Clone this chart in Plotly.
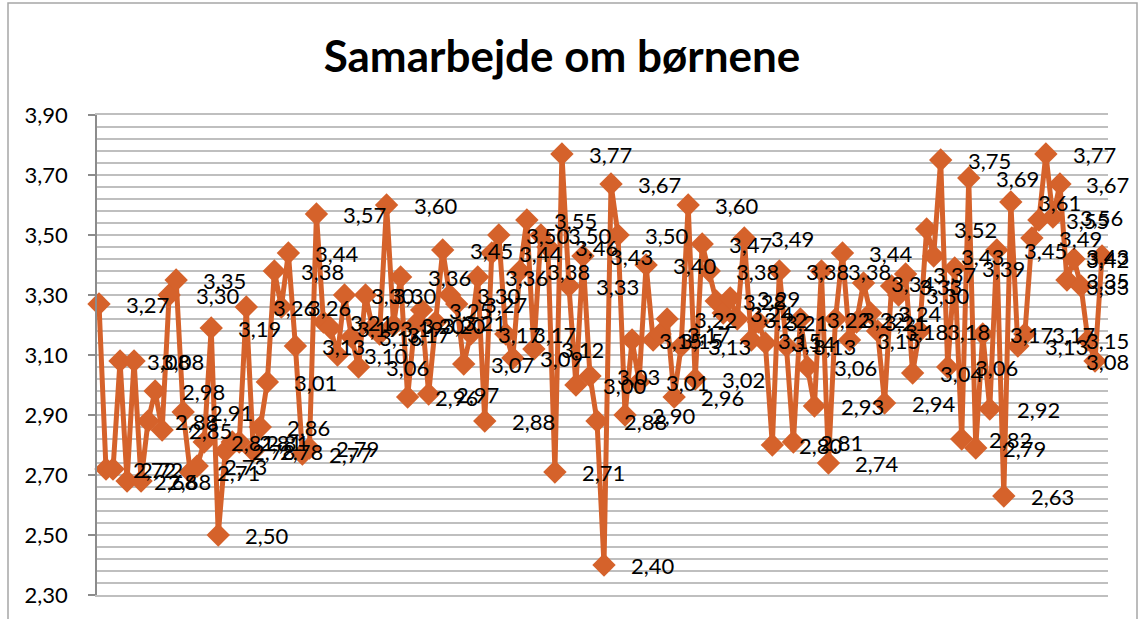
import plotly.graph_objects as go

# Average score per respondent, "Samarbejde om børnene"
scores = [
    3.27, 2.72, 2.72, 3.08, 2.68, 3.08, 2.68, 2.88, 2.98, 2.85,
    3.30, 3.35, 2.91, 2.71, 2.73, 2.81, 3.19, 2.50, 2.78, 2.81,
    2.81, 3.26, 2.78, 2.86, 3.01, 3.38, 3.26, 3.44, 3.13, 2.77,
    2.79, 3.57, 3.21, 3.19, 3.10, 3.30, 3.16, 3.06, 3.30, 3.19,
    3.17, 3.60, 3.20, 3.36, 2.96, 3.20, 3.25, 2.97, 3.21, 3.45,
    3.30, 3.27, 3.07, 3.17, 3.36, 2.88, 3.44, 3.50, 3.17, 3.09,
    3.38, 3.55, 3.12, 3.50, 3.46, 2.71, 3.77, 3.33, 3.00, 3.43,
    3.03, 2.88, 2.40, 3.67, 3.50, 2.90, 3.15, 3.01, 3.40, 3.15,
    3.17, 3.22, 2.96, 3.13, 3.60, 3.02, 3.47, 3.38, 3.28, 3.24,
    3.29, 3.22, 3.49, 3.15, 3.21, 3.14, 2.80, 3.38, 3.13, 2.81,
    3.22, 3.06, 2.93, 3.38, 2.74, 3.22, 3.44, 3.15, 3.21, 3.34,
    3.24, 3.18, 2.94, 3.33, 3.30, 3.37, 3.04, 3.18, 3.52, 3.43,
    3.75, 3.06, 3.39, 2.82, 3.69, 2.79, 3.17, 2.92, 3.45, 2.63,
    3.61, 3.13, 3.17, 3.49, 3.55, 3.77, 3.56, 3.67, 3.35, 3.42,
    3.33, 3.15, 3.08, 3.43,
]
respondents = list(range(1, len(scores) + 1))

title_text = "Samarbejde om børnene"
y_min, y_max, y_step, y_minor = 2.30, 3.90, 0.20, 0.04

LINE = "#D5622B"
GRID = "#BFBFBF"
AXIS = "#8C8C8C"
FONT = "Lato, Calibri, Carlito, sans-serif"

W, H = 1141, 619
M_L, M_R, M_T, M_B = 97, 33, 115, 24
X_LO, X_HI = 0.715, len(scores) + 0.855
plot_w = W - M_L - M_R
plot_h = H - M_T - M_B


def fmt(v):
    return f"{v:.2f}".replace(".", ",")


fig = go.Figure(
    go.Scatter(
        x=respondents,
        y=scores,
        mode="lines+markers",
        line=dict(color=LINE, width=5),
        marker=dict(symbol="diamond", size=18, color=LINE),
        hoverinfo="skip",
        cliponaxis=False,
    )
)

# Data labels to the right of each point, kept inside the chart frame
label_right_limit = 1084
annotations = []
for xi, v in zip(respondents, scores):
    px = M_L + (xi - X_LO) / (X_HI - X_LO) * plot_w
    shift = min(25, label_right_limit - px)
    annotations.append(
        dict(
            x=xi, y=v, xref="x", yref="y",
            text=fmt(v), showarrow=False,
            xanchor="left", yanchor="middle", xshift=shift,
            font=dict(family=FONT, size=22, color="#000000"),
        )
    )

# Chart-area frame
frame = dict(
    type="rect", xref="paper", yref="paper",
    x0=(8 - M_L) / plot_w, x1=(1137 - M_L) / plot_w,
    y0=-(H + 6 - (H - M_B)) / plot_h, y1=((H - M_B) - 3) / plot_h,
    line=dict(color="#A6A6A6", width=1.5), fillcolor="rgba(0,0,0,0)",
    layer="below",
)

fig.update_layout(
    width=W, height=H,
    margin=dict(l=M_L, r=M_R, t=M_T, b=M_B),
    paper_bgcolor="white", plot_bgcolor="white",
    separators=",.",
    showlegend=False,
    title=dict(
        text=f"<b>{title_text}</b>",
        x=562 / W, xanchor="center",
        y=1 - 57 / H, yanchor="middle", yref="container",
        font=dict(family=FONT, size=44, color="#000000"),
    ),
    annotations=annotations,
    shapes=[frame],
    xaxis=dict(
        range=[X_LO, X_HI],
        showticklabels=False, ticks="", showgrid=False, zeroline=False,
        showline=True, linecolor=GRID, linewidth=1.5, mirror=True,
    ),
    yaxis=dict(
        range=[y_min, y_max],
        tick0=y_min, dtick=y_step, tickformat=".2f",
        ticks="outside", ticklen=7, tickwidth=1.5, tickcolor=AXIS,
        ticklabelstandoff=16,
        tickfont=dict(family=FONT, size=22, color="#000000"),
        showline=True, linecolor=AXIS, linewidth=1.5,
        showgrid=True, gridcolor=GRID, gridwidth=1.5,
        zeroline=False,
        minor=dict(tick0=y_min, dtick=y_minor, showgrid=True,
                   gridcolor=GRID, gridwidth=1.5, ticks=""),
    ),
)

fig.write_html("out.html")
